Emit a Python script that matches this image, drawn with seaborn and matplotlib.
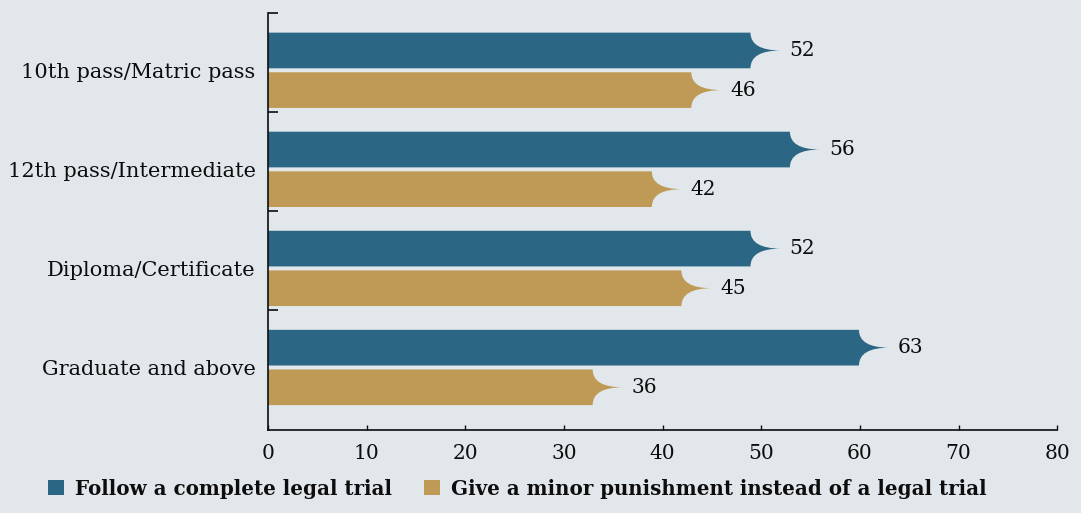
import matplotlib
matplotlib.use("Agg")
import matplotlib.pyplot as plt
import seaborn as sns
import pandas as pd
from matplotlib.path import Path
from matplotlib.patches import PathPatch, Patch

categories = ["10th pass/Matric pass", "12th pass/Intermediate", "Diploma/Certificate", "Graduate and above"]
series_names = ["Follow a complete legal trial", "Give a minor punishment instead of a legal trial"]
follow_trial = [52, 56, 52, 63]
minor_punishment = [46, 42, 45, 36]
x_ticks = [0, 10, 20, 30, 40, 50, 60, 70, 80]

BG = "#e1e7ea"
COLORS = ["#2b6784", "#bf9a56"]
FONT = "DejaVu Serif"
INK = "#0d0d0d"

df = pd.DataFrame({
    "category": categories * 2,
    "series": [series_names[0]] * 4 + [series_names[1]] * 4,
    "value": follow_trial + minor_punishment,
})

sns.set_theme(style="white")
plt.rcParams["font.family"] = [FONT]

fig = plt.figure(figsize=(10.81, 5.13), dpi=100, facecolor=BG)
ax = fig.add_axes([0.248, 0.162, 0.978 - 0.248, 0.975 - 0.162])
ax.set_facecolor(BG)

sns.barplot(data=df, y="category", x="value", hue="series", orient="h",
            palette=COLORS, width=0.8, gap=0.1, ax=ax, legend=False,
            saturation=1, linewidth=0)

TIP = 3.1
for cont, col in zip(ax.containers, COLORS):
    for rect in list(cont.patches):
        w = rect.get_width()
        y0 = rect.get_y()
        h = rect.get_height()
        ym = y0 + h / 2
        xr = w - TIP
        verts = [(0, y0), (xr, y0), (xr, ym), (w, ym), (xr, ym), (xr, y0 + h), (0, y0 + h), (0, y0)]
        codes = [Path.MOVETO, Path.LINETO, Path.CURVE3, Path.CURVE3, Path.CURVE3, Path.CURVE3,
                 Path.LINETO, Path.CLOSEPOLY]
        ax.add_patch(PathPatch(Path(verts, codes), facecolor=col, edgecolor="none"))
        rect.set_visible(False)
        ax.annotate(f"{w:g}", xy=(w, ym), xytext=(6, 0), textcoords="offset points",
                    va="center", ha="left", fontsize=14.5, color=INK, family=FONT)

ax.set_xlim(0, 80)
ax.set_ylim(3.63, -0.58)
ax.set_xticks(x_ticks)
ax.set_xticklabels([str(t) for t in x_ticks], fontsize=14.5, family=FONT, color=INK)
ax.set_xlabel("")
ax.set_ylabel("")

ax.set_yticks(range(len(categories)))
ax.set_yticklabels(categories, fontsize=15, family=FONT, color=INK)
ax.tick_params(axis="y", length=0, pad=9)
ax.set_yticks([i - 0.58 for i in range(len(categories))], minor=True)
ax.tick_params(axis="y", which="minor", direction="in", length=7, width=1.2, color=INK, left=True)
ax.tick_params(axis="x", direction="in", length=3.5, width=1, color=INK, bottom=True, pad=10)

for s in ["top", "right"]:
    ax.spines[s].set_visible(False)
for s in ["left", "bottom"]:
    ax.spines[s].set_color(INK)
    ax.spines[s].set_linewidth(1.2)

handles = [Patch(facecolor=c, edgecolor="none") for c in COLORS]
fig.legend(handles, series_names, loc="lower left", bbox_to_anchor=(0.028, -0.007), ncol=2,
           frameon=False, handlelength=0.8, handleheight=0.8, handletextpad=0.55, columnspacing=1.6,
           labelcolor=INK, prop={"family": FONT, "weight": "bold", "size": 14.3})

fig.savefig("out.png", dpi=100, facecolor=BG)
